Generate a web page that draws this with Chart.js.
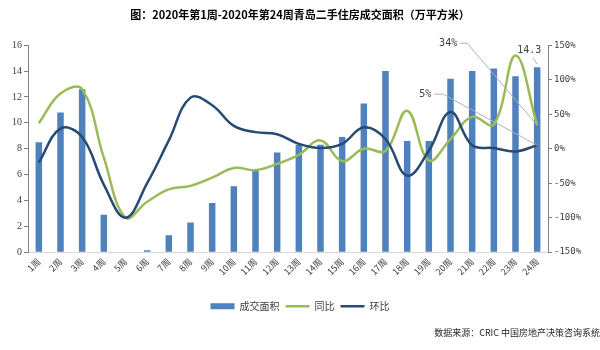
<!DOCTYPE html>
<html>
<head>
<meta charset="utf-8">
<script src="https://cdn.jsdelivr.net/npm/chart.js@4/dist/chart.umd.min.js"></script>
<style>
    html, body { margin: 0; padding: 0; background: #fff; }
    #wrap { width: 600px; height: 350px; }
</style>
</head>
<body>
<div id="wrap"><canvas id="chart-mix"></canvas></div>
<script>
    // 2020 weeks 1-24
    const weeks = ["1周","2周","3周","4周","5周","6周","7周","8周","9周","10周","11周","12周",
                   "13周","14周","15周","16周","17周","18周","19周","20周","21周","22周","23周","24周"];
    // 成交面积 (万平方米)
    const area = [8.5, 10.8, 12.6, 2.9, 0, 0.15, 1.3, 2.3, 3.8, 5.1, 6.3, 7.7,
                  8.3, 8.3, 8.9, 11.5, 14.0, 8.6, 8.6, 13.4, 14.0, 14.2, 13.6, 14.3];
    // 同比 (%)
    const yoy = [37, 80, 86, -13, -100, -77, -59, -54, -42, -28, -31, -22,
                 -9, 12, -18, 0, -3, 55, -17, 14, 46, 35, 135, 34];
    // 环比 (%)
    const mom = [-20, 29, 17, -52, -100, -50, 12, 74, 63, 33, 24, 21,
                 7, 1, 7, 31, 14, -39, -3, 53, 5, 1, -4, 5];

    const blue = "#4F81BD";
    const green = "#9BBB59";
    const navy = "#264A74";
    const axisGrey = "#7f7f7f";
    const textGrey = "#404040";
    const cjk = "'Noto Sans CJK SC', 'Noto Sans', sans-serif";

    // labels for the last week, with leader lines
    const lastLabels = {
        id: "lastLabels",
        afterDatasetsDraw(chart) {
            const c = chart.ctx;
            const n = weeks.length - 1;
            const bar = chart.getDatasetMeta(0).data[n];
            const g = chart.getDatasetMeta(1).data[n];
            const d = chart.getDatasetMeta(2).data[n];
            c.save();
            c.font = "10px 'DejaVu Sans Mono', monospace";
            c.fillStyle = textGrey;
            c.strokeStyle = "#b0b0b0";
            c.lineWidth = 1;
            c.textBaseline = "middle";

            // 34%
            c.textAlign = "right";
            c.fillText(yoy[n] + "%", g.x - 80, g.y - 82);
            c.beginPath();
            c.moveTo(g.x - 77, g.y - 82);
            c.lineTo(g.x - 70, g.y - 82);
            c.lineTo(g.x, g.y);
            c.stroke();

            // 5%
            c.fillText(mom[n] + "%", d.x - 106, d.y - 51);
            c.beginPath();
            c.moveTo(d.x - 103, d.y - 51);
            c.lineTo(d.x - 94, d.y - 51);
            c.lineTo(d.x, d.y);
            c.stroke();

            // 14.3
            c.textAlign = "center";
            c.fillText(area[n].toFixed(1), bar.x - 8, bar.y - 17);
            c.beginPath();
            c.moveTo(bar.x - 4, bar.y - 9);
            c.lineTo(bar.x, bar.y - 3);
            c.stroke();
            c.restore();
        }
    };

    const ctx = document.getElementById("chart-mix").getContext("2d");

    new Chart(ctx, {
        data: {
            labels: weeks,
            datasets: [
                {
                    type: "bar",
                    label: "成交面积",
                    data: area,
                    backgroundColor: blue,
                    yAxisID: "y",
                    barPercentage: 0.3,
                    categoryPercentage: 1,
                    order: 3
                },
                {
                    type: "line",
                    label: "同比",
                    data: yoy,
                    borderColor: green,
                    backgroundColor: green,
                    borderWidth: 2.5,
                    pointRadius: 0,
                    tension: 0.4,
                    yAxisID: "y1",
                    order: 2
                },
                {
                    type: "line",
                    label: "环比",
                    data: mom,
                    borderColor: navy,
                    backgroundColor: navy,
                    borderWidth: 2.5,
                    pointRadius: 0,
                    tension: 0.4,
                    yAxisID: "y1",
                    order: 1
                }
            ]
        },
        options: {
            responsive: true,
            maintainAspectRatio: false,
            animation: false,
            layout: { padding: { top: 4, left: 0, right: 0, bottom: 4 } },
            plugins: {
                title: {
                    display: true,
                    text: "图：2020年第1周-2020年第24周青岛二手住房成交面积（万平方米）",
                    color: "#000",
                    font: { family: cjk, size: 11, weight: "bold" },
                    padding: { top: 4, bottom: 24 }
                },
                subtitle: {
                    display: true,
                    position: "bottom",
                    align: "end",
                    text: "数据来源：CRIC 中国房地产决策咨询系统",
                    color: "#262626",
                    font: { family: cjk, size: 9 },
                    padding: { top: 6, bottom: 8 }
                },
                legend: {
                    display: true,
                    position: "bottom",
                    labels: {
                        color: textGrey,
                        font: { family: cjk, size: 10 },
                        usePointStyle: true,
                        pointStyleWidth: 24,
                        boxHeight: 6,
                        padding: 6,
                        generateLabels(chart) {
                            return chart.data.datasets.map((ds, i) => ({
                                text: ds.label,
                                datasetIndex: i,
                                pointStyle: ds.type === "bar" ? "rect" : "line",
                                fillStyle: ds.backgroundColor,
                                strokeStyle: ds.type === "bar" ? ds.backgroundColor : ds.borderColor,
                                lineWidth: ds.type === "bar" ? 0 : 2.5,
                                fontColor: textGrey
                            }));
                        }
                    }
                },
                tooltip: { enabled: false }
            },
            scales: {
                x: {
                    grid: { display: false, drawTicks: false },
                    border: { color: "#d9d9d9" },
                    ticks: {
                        color: textGrey,
                        font: { family: cjk, size: 9 },
                        minRotation: 45,
                        maxRotation: 45,
                        autoSkip: false,
                        padding: 4
                    },
                    afterFit(scale) { scale.height += 14; }
                },
                y: {
                    position: "left",
                    min: 0,
                    max: 16,
                    ticks: { stepSize: 2, color: textGrey, font: { family: "'Liberation Serif', serif", size: 10 }, padding: 2 },
                    grid: { drawOnChartArea: false, drawTicks: true, tickLength: 4, color: axisGrey },
                    border: { color: axisGrey },
                    afterFit(scale) { scale.width = 28; }
                },
                y1: {
                    position: "right",
                    min: -150,
                    max: 150,
                    ticks: {
                        stepSize: 50,
                        color: textGrey,
                        font: { family: "'DejaVu Sans Mono', monospace", size: 9 },
                        padding: 2,
                        callback: (v) => v + "%"
                    },
                    grid: { drawOnChartArea: false, drawTicks: true, tickLength: 4, color: axisGrey },
                    border: { color: axisGrey },
                    afterFit(scale) { scale.width = 52; }
                }
            }
        },
        plugins: [lastLabels]
    });
</script>
</body>
</html>
